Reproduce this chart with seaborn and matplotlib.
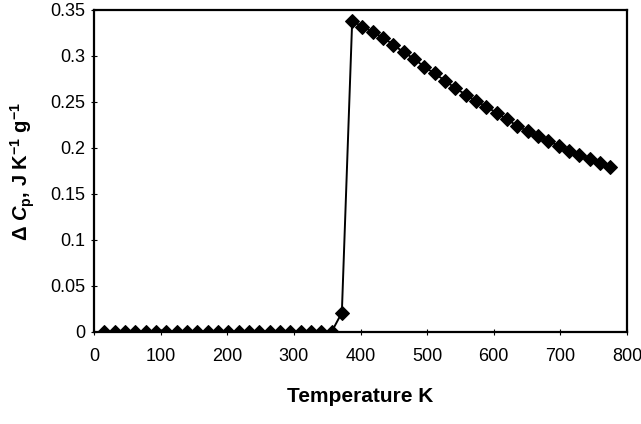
import numpy as np
import pandas as pd
import matplotlib
matplotlib.use('Agg')
import matplotlib.pyplot as plt
import seaborn as sns

# temperature grid (K), one point every 15.5 K
temp = [15.5 * i for i in range(1, 51)]
# delta Cp (J K-1 g-1)
flat = [0.0] * 23
jump = [0.021]
decay = [0.338, 0.332, 0.326, 0.320, 0.312, 0.304, 0.297, 0.288, 0.281, 0.273,
         0.265, 0.258, 0.251, 0.245, 0.238, 0.231, 0.224, 0.218, 0.213, 0.208,
         0.202, 0.197, 0.192, 0.188, 0.184, 0.179]
dcp = flat + jump + decay
xticks = [0, 100, 200, 300, 400, 500, 600, 700, 800]
yticks = [0, 0.05, 0.1, 0.15, 0.2, 0.25, 0.3, 0.35]
ytick_labels = ['0', '0.05', '0.1', '0.15', '0.2', '0.25', '0.3', '0.35']

df = pd.DataFrame({'T': temp, 'dcp': dcp})

sns.set_style('white')
plt.rcParams['font.family'] = ['Liberation Sans', 'DejaVu Sans']
plt.rcParams['text.color'] = 'black'
plt.rcParams['axes.labelcolor'] = 'black'
plt.rcParams['mathtext.fontset'] = 'custom'
plt.rcParams['mathtext.rm'] = 'Liberation Sans:bold'
plt.rcParams['mathtext.bf'] = 'Liberation Sans:bold'
plt.rcParams['mathtext.it'] = 'Liberation Sans:italic:bold'
plt.rcParams['mathtext.bfit'] = 'Liberation Sans:italic:bold'

fig = plt.figure(figsize = (6.41, 4.24), dpi = 100)
ax = fig.add_axes([94/641, 1 - 332/424, (627-94)/641, (332-10)/424])
sns.lineplot(data = df, x = 'T', y = 'dcp', ax = ax, color = 'black', lw = 1.4,
             marker = 'D', markersize = 7.5, markeredgecolor = 'black', markerfacecolor = 'black')

ax.set_xlim(0, 800); ax.set_ylim(0, 0.35)
ax.set_xticks(xticks)
ax.set_yticks(yticks); ax.set_yticklabels(ytick_labels)
ax.tick_params(axis = 'both', which = 'both', direction = 'inout', length = 5, width = 0.8,
               labelsize = 13, colors = 'black', bottom = True, left = True, top = False, right = False)
ax.tick_params(axis = 'x', pad = 9)
for s in ax.spines.values():
    s.set_color('black'); s.set_linewidth(1.6)

ax.set_xlabel('Temperature K', fontsize = 15, fontweight = 'bold', labelpad = 16)
ax.set_ylabel(r'$\Delta$ $\mathbfit{C}_\mathbf{p}$, J K$^{\mathbf{-1}}$ g$^{\mathbf{-1}}$',
              fontsize = 14.5, fontweight = 'bold', labelpad = 10)

plt.savefig('out.png', dpi = 100)
plt.close()
